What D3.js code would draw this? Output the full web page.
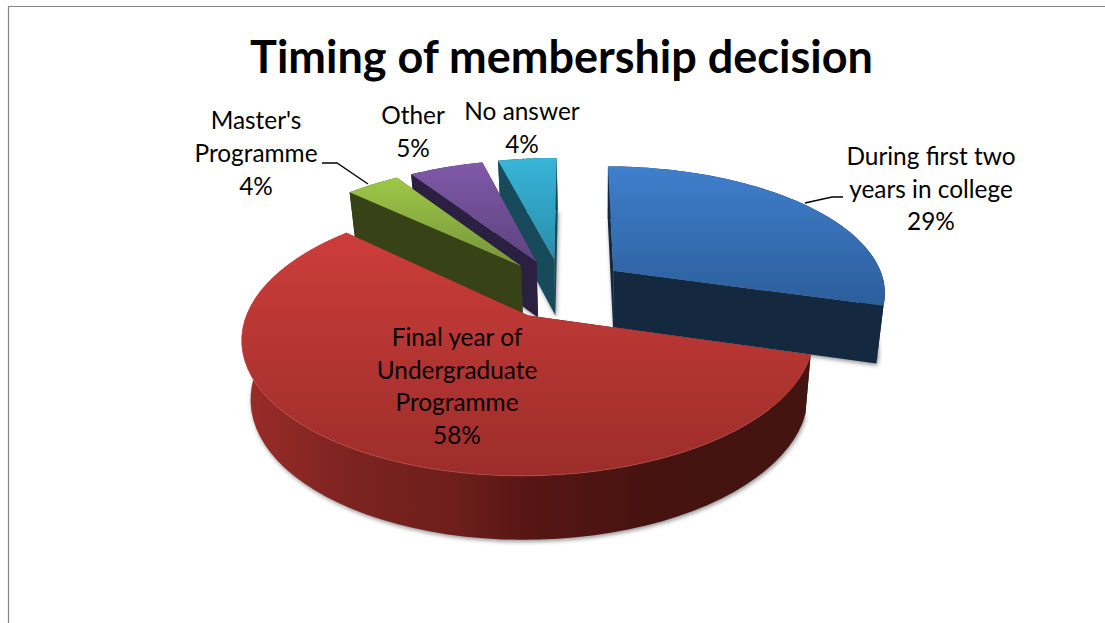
<!DOCTYPE html>
<html><head><meta charset="utf-8">
<script src="https://cdnjs.cloudflare.com/ajax/libs/d3/7.8.5/d3.min.js"></script>
<style>html,body{margin:0;padding:0;background:#fff;overflow:hidden}svg{display:block}text{font-family:Lato,sans-serif;fill:#000}</style>
</head><body><svg id="c" width="1105" height="623"></svg>
<script>
// Data
const categories = ["During first two years in college","Final year of Undergraduate Programme","Master's Programme","Other","No answer"];
const values = [29.4,57.5,3.8,5.2,4.1];
const percentLabels = ["29%","58%","4%","5%","4%"];
const titleText = "Timing of membership decision";
const topColors = [["#3f7fcc","#2c5e9c"],["#cc3d3a","#9c2d2a"],["#9fc748","#76953a"],["#8059a8","#5d4380"],["#37b5d8","#2a8dad"]];
const wallColors = ["#142840","#3a100e","#374317","#2b1f42","#174a5b"];
const drawOrder = [4,3,2,0,1];

// Layout
const cx=562, cy=288.5, R=273, S=125.8, P=0.156, EXPLODE=0.24, VX=600, K=0.975;
const svg=d3.select("#c");
const defs=svg.append("defs");
defs.append("filter").attr("id","blur").attr("x","-10%").attr("y","-10%").attr("width","120%").attr("height","120%")
  .append("feGaussianBlur").attr("stdDeviation",2.2);

const arcs=d3.pie().sort(null).value(d=>d).startAngle(0.006).endAngle(2*Math.PI+0.006)(values);
const line=d3.line();
const project=(u,v)=>{const w=1/(1-P*v);return [cx+R*u*w,cy+S*v*w];};
const down=p=>[VX+(p[0]-VX)*K,p[1]+56+(p[1]-260)*0.037];

// Border
svg.append("path").attr("d","M8.5,623V6.5H1105").attr("fill","none").attr("stroke","#868686").attr("stroke-width",1.2);

// Red wall shading runs left to right
const redWall=defs.append("linearGradient").attr("id","wall1").attr("gradientUnits","userSpaceOnUse").attr("x1",245).attr("x2",810).attr("y1",0).attr("y2",0);
[[0,"#9a2c29"],[0.19,"#7c2320"],[0.37,"#6e1f1c"],[0.5,"#571614"],[0.72,"#46130f"],[1,"#431411"]].forEach(s=>redWall.append("stop").attr("offset",s[0]).attr("stop-color",s[1]));

const slices=arcs.map((a,i)=>{
  const mid=(a.startAngle+a.endAngle)/2;
  const ou=EXPLODE*Math.sin(mid), ov=-EXPLODE*Math.cos(mid);
  const at=t=>project(ou+Math.sin(t),ov-Math.cos(t));
  const outer=d3.range(0,65).map(k=>at(a.startAngle+(a.endAngle-a.startAngle)*k/64));
  return {i,apex:project(ou,ov),outer};
});

drawOrder.forEach(i=>{
  const s=slices[i];
  const g=svg.append("g").attr("class","slice");
  const top=[s.apex,...s.outer];
  const ys=top.map(p=>p[1]);
  const grad=defs.append("linearGradient").attr("id","top"+i).attr("gradientUnits","userSpaceOnUse")
    .attr("x1",0).attr("x2",0).attr("y1",d3.min(ys)).attr("y2",d3.max(ys));
  grad.append("stop").attr("offset",0).attr("stop-color",topColors[i][0]);
  grad.append("stop").attr("offset",1).attr("stop-color",topColors[i][1]);
  const fillWall=i===1?"url(#wall1)":wallColors[i];
  // soft shadow of the underside
  g.append("path").attr("d",line(top.map(down))+"Z").attr("fill","#000").attr("opacity",0.42).attr("filter","url(#blur)").attr("transform","translate(1,2)");
  // straight walls
  const first=s.outer[0], last=s.outer[s.outer.length-1];
  [first,last].forEach(p=>{
    g.append("path").attr("d",line([s.apex,p,down(p),down(s.apex)])+"Z").attr("fill",fillWall);
  });
  // curved wall
  g.append("path").attr("d",line([...s.outer,...s.outer.map(down).reverse()])+"Z").attr("fill",fillWall);
  // top face
  g.append("path").attr("d",line(top)+"Z").attr("fill",`url(#top${i})`);
  if(i===1) g.append("path").attr("d",line(s.outer)).attr("fill","none").attr("stroke","#d8605a").attr("stroke-opacity",0.45).attr("stroke-width",1);
});

// Leader lines
[[[322,163],[337,163],[368,184]],[[805,203],[832,197],[843,197]]].forEach(p=>{
  svg.append("path").attr("d",line(p)).attr("fill","none").attr("stroke","#000").attr("stroke-width",1.3);
});

// Labels
const labelLines=[
  [...["During first two","years in college"],percentLabels[0]],
  [...["Final year of","Undergraduate","Programme"],percentLabels[1]],
  [...["Master's","Programme"],percentLabels[2]],
  [...["Other"],percentLabels[3]],
  [...["No answer"],percentLabels[4]]
];
const labelPos=[[931,165,32.5],[457,346,32.5],[256,129,33],[413,124,32.5],[522,120,32.5]];
labelLines.forEach((ls,i)=>{
  const t=svg.append("text").attr("text-anchor","middle").attr("font-size",24.4);
  ls.forEach((l,k)=>t.append("tspan").attr("x",labelPos[i][0]).attr("y",labelPos[i][1]+k*labelPos[i][2]).text(l));
});
svg.append("text").attr("x",561.5).attr("y",73).attr("text-anchor","middle").attr("font-size",45).attr("font-weight",700).text(titleText);
</script></body></html>
